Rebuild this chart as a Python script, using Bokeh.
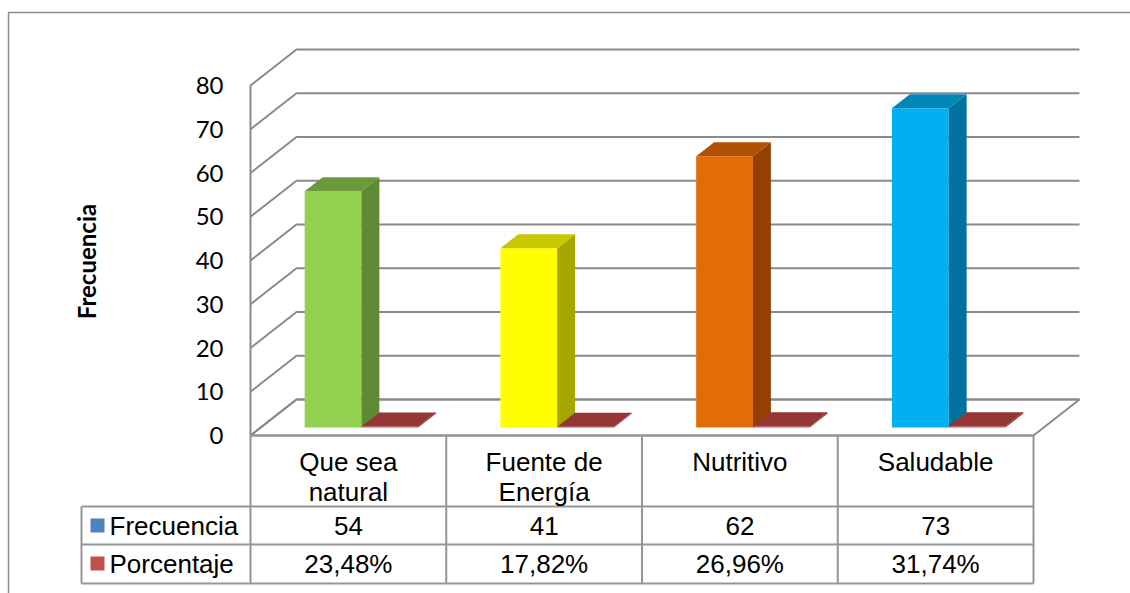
import math
from bokeh.plotting import figure
from bokeh.models import Range1d
from bokeh.core.properties import value
from bokeh.embed import file_html
from bokeh.resources import INLINE

# ---------------- data ----------------
categories = ["Que sea\nnatural", "Fuente de\nEnergía", "Nutritivo", "Saludable"]
frecuencia = [54, 41, 62, 73]
porcentaje = [23.48, 17.82, 26.96, 31.74]          # percent
frecuencia_labels = ["54", "41", "62", "73"]
porcentaje_labels = ["23,48%", "17,82%", "26,96%", "31,74%"]
series_names = ["Frecuencia", "Porcentaje"]
series_key_colors = ["#4F81BD", "#C0504D"]
y_ticks = [0, 10, 20, 30, 40, 50, 60, 70, 80]
y_title = "Frecuencia"

# bar colours (front / side / top) per category for the Frecuencia series
front_colors = ["#92D050", "#FFFF00", "#E36C09", "#00B0F0"]
side_colors = ["#5E8A33", "#A6A600", "#954000", "#00729E"]
top_colors = ["#6C9A3A", "#C8C800", "#B05000", "#0087B8"]
# Porcentaje series colours
red_front, red_side, red_top = "#C0504D", "#8B2E2C", "#943634"

# ---------------- layout ----------------
W, H = 1130, 593
AX_PX, BASE_PY = 250.0, 435.0     # pixel position of value-axis front, value 0
CAT_PX, UNIT_PY = 195.75, 4.375   # pixels per category, per value unit
DEPTH_PX, DEPTH_PY = 46.0, 36.0

def fx(px):
    return (px - AX_PX) / CAT_PX

def fy(py):
    return (BASE_PY - py) / UNIT_PY

DX, DY = DEPTH_PX / CAT_PX, DEPTH_PY / UNIT_PY
F0, F1 = 0.22, 0.61               # depth fractions of the bars
N = len(categories)
GRID = "#8A8A8A"
TABLE = "#959595"

p = figure(width=W, height=H,
           x_range=Range1d(fx(0), fx(W)), y_range=Range1d(fy(H), fy(0)),
           min_border=0, toolbar_location=None, output_backend="svg")
p.axis.visible = False
p.grid.visible = False
p.outline_line_color = None
p.background_fill_color = "white"
p.border_fill_color = "white"

# outer chart border
p.line([fx(8), fx(8), fx(W)], [fy(H), fy(12), fy(12)], line_color="#8C8C8C", line_width=1.5)

# gridlines (left wall diagonal + back wall)
gx, gy = [], []
for t in y_ticks:
    gx.append([0, DX, N + DX])
    gy.append([t, t + DY, t + DY])
p.multi_line(gx, gy, line_color=GRID, line_width=2)

# floor
p.patch([0, DX, N + DX, N], [0, DY, DY, 0], fill_color=None, line_color=GRID, line_width=2)
# value axis line
p.line([0, 0], [0, y_ticks[-1]], line_color=GRID, line_width=2)

# bars
def bar(xl, xr, v, fc, sc, tc):
    x0, x1 = DX * F0, DX * F1
    y0, y1 = DY * F0, DY * F1
    p.quad(left=[xl + x0], right=[xr + x0], bottom=[y0], top=[v + y0],
           fill_color=fc, line_color=None)
    p.patch([xr + x0, xr + x1, xr + x1, xr + x0], [y0, y1, v + y1, v + y0],
            fill_color=sc, line_color=None)
    p.patch([xl + x0, xr + x0, xr + x1, xl + x1], [v + y0, v + y0, v + y1, v + y1],
            fill_color=tc, line_color=None)

BW = 0.29
START = 0.225
for i in range(N):
    bar(i + START, i + START + BW, frecuencia[i], front_colors[i], side_colors[i], top_colors[i])
    bar(i + START + BW, i + START + 2 * BW, porcentaje[i] / 100.0, red_front, red_side, red_top)

# y tick labels
p.text(x=[fx(223)] * len(y_ticks), y=y_ticks, text=[str(t) for t in y_ticks],
       text_align="right", text_baseline="middle",
       text_font=value("Lato"), text_font_size="24px", text_color="#000000")

# y title
p.text(x=[fx(86)], y=[fy(261)], text=[y_title], angle=math.pi / 2,
       text_align="center", text_baseline="middle",
       text_font=value("Lato"), text_font_style="bold", text_font_size="24px",
       text_color="#000000")

# data table
rows_py = [BASE_PY, 506, 544, 583]
leg_left = fx(81)
hx, hy = [], []
for r in rows_py[1:]:
    hx.append([leg_left, N])
    hy.append([fy(r), fy(r)])
hx.append([0, N]); hy.append([0, 0])
# verticals
hx.append([leg_left, leg_left]); hy.append([fy(rows_py[1]), fy(rows_py[3])])
for i in range(N + 1):
    hx.append([i, i]); hy.append([0, fy(rows_py[3])])
p.multi_line(hx, hy, line_color=TABLE, line_width=2)

FONT = value("Liberation Sans")
# category headers
l1x, l1y, l1t = [], [], []
for i, c in enumerate(categories):
    parts = c.split("\n")
    for k, part in enumerate(parts):
        l1x.append(i + 0.5)
        l1y.append(fy(461 + 30 * k))
        l1t.append(part)
p.text(x=l1x, y=l1y, text=l1t, text_align="center", text_baseline="middle",
       text_font=FONT, text_font_size="26px", text_color="#000000")

row_centers = [fy(525), fy(563)]
p.text(x=[i + 0.5 for i in range(N)], y=[row_centers[0]] * N, text=frecuencia_labels,
       text_align="center", text_baseline="middle",
       text_font=FONT, text_font_size="26px", text_color="#000000")
p.text(x=[i + 0.5 for i in range(N)], y=[row_centers[1]] * N, text=porcentaje_labels,
       text_align="center", text_baseline="middle",
       text_font=FONT, text_font_size="26px", text_color="#000000")

# legend keys
p.scatter(x=[fx(97)] * 2, y=row_centers, marker="square", size=14,
          fill_color=series_key_colors, line_color=None)
p.text(x=[fx(109)] * 2, y=row_centers, text=series_names,
       text_align="left", text_baseline="middle",
       text_font=FONT, text_font_size="26px", text_color="#000000")

open("out.html", "w").write(file_html(p, INLINE))
